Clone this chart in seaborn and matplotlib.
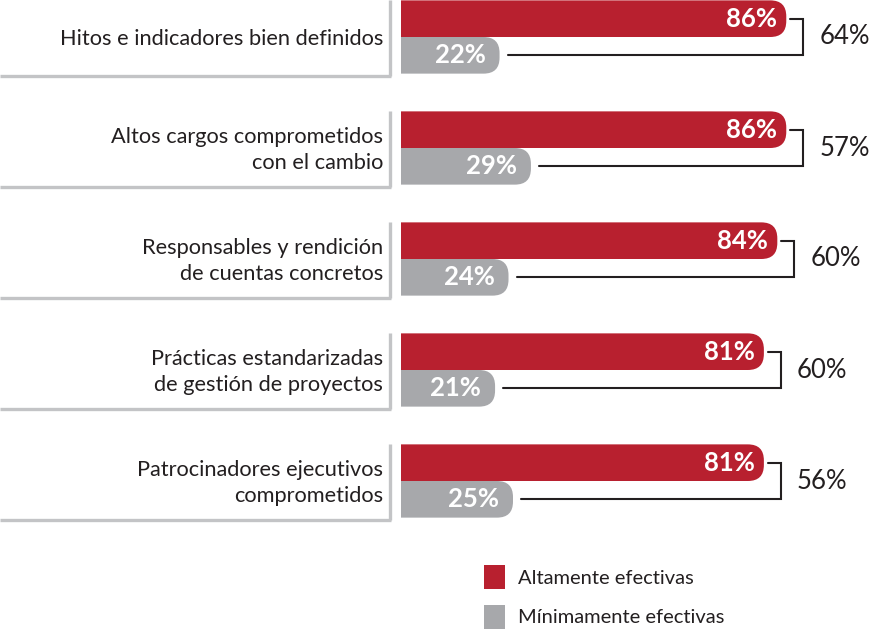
import matplotlib
matplotlib.use("Agg")
import matplotlib.pyplot as plt
from matplotlib.patches import FancyBboxPatch, Patch
from matplotlib.lines import Line2D
import seaborn as sns
import pandas as pd

# ---- data ----
categories = [
    "Hitos e indicadores bien definidos",
    "Altos cargos comprometidos\ncon el cambio",
    "Responsables y rendición\nde cuentas concretos",
    "Prácticas estandarizadas\nde gestión de proyectos",
    "Patrocinadores ejecutivos\ncomprometidos",
]
altamente = [86, 86, 84, 81, 81]
minimamente = [22, 29, 24, 21, 25]
diferencia = [64, 57, 60, 60, 56]
series_names = ["Altamente efectivas", "Mínimamente efectivas"]
colors = ["#B8202F", "#A7A8AB"]

sns.set_style("white")
FONT = ["Lato", "DejaVu Sans"]
plt.rcParams["font.family"] = FONT

df = pd.DataFrame({
    "cat": categories * 2,
    "val": altamente + minimamente,
    "serie": [series_names[0]] * len(categories) + [series_names[1]] * len(categories),
})

W, H = 870, 629
fig = plt.figure(figsize=(W / 100, H / 100), dpi=100)
X0 = 401            # pixel where bars start
S = 4.48            # pixels per percentage point
PY = 111            # pixels per category unit
ax = fig.add_axes([X0 / W, 0, (W - X0) / W, 1])

sns.barplot(data=df, x="val", y="cat", hue="serie", order=categories,
            hue_order=series_names, palette=colors, width=0.66,
            orient="h", legend=False, ax=ax, saturation=1)

ax.set_xlim(0, (W - X0) / S)
top_off = 37 / PY
ax.set_ylim((H - 37) / PY, -top_off)
ax.axis("off")

def px(p):
    return p / S

# rounded bars
r_px = 16
bars = list(ax.patches)
for b in bars:
    x, y = b.get_x(), b.get_y()
    w, h = b.get_width(), b.get_height()
    fc = b.get_facecolor()
    b.set_visible(False)
    ext = px(30)
    fb = FancyBboxPatch((x - ext, y), w + ext, h,
                        boxstyle=f"round,pad=0,rounding_size={px(r_px)}",
                        mutation_aspect=S / PY, facecolor=fc,
                        edgecolor="none", zorder=2)
    ax.add_patch(fb)

border = "#C3C4C6"
hb = 0.33
for i, cat in enumerate(categories):
    a, m, d = altamente[i], minimamente[i], diferencia[i]
    yr = i - hb / 2
    yg = i + hb / 2
    # label box borders
    xr = px(390 - X0)
    ytop = i - hb
    ybot = i + hb + 2 / PY
    ax.add_line(Line2D([xr, xr], [ytop, ybot], color=border, lw=2.4,
                       clip_on=False, solid_capstyle="butt"))
    ax.add_line(Line2D([px(-X0), xr + px(1.2)], [ybot, ybot], color=border,
                       lw=2.4, clip_on=False, solid_capstyle="butt"))
    # category label
    ax.text(px(383 - X0), i + 2 / PY, cat, ha="right", va="center",
            fontsize=15.7, color="#231F20", linespacing=1.42, clip_on=False)
    # value labels
    ax.text(a - px(9), yr, f"{a}%", ha="right", va="center", fontsize=18.5,
            fontweight="bold", color="white", zorder=3)
    ax.text(m - px(14), yg, f"{m}%", ha="right", va="center", fontsize=18.5,
            fontweight="bold", color="white", zorder=3)
    # bracket
    xb = a + px(17)
    ax.plot([a + px(4), xb, xb, m + px(8)], [yr, yr, yg, yg],
            color="#231F20", lw=1.5, solid_joinstyle="miter", zorder=3)
    ax.text(xb + px(16), i, f"{d}%", ha="left", va="center", fontsize=18.5,
            color="#231F20")

handles = [Patch(facecolor=c, edgecolor="none", label=n)
           for c, n in zip(colors, series_names)]
fig.legend(handles=handles, loc="upper left",
           bbox_to_anchor=(484 / W, 1 - 565 / H), frameon=False,
           fontsize=14.5, handlelength=1.05, handleheight=1.45,
           handletextpad=0.62, labelspacing=0.78, borderpad=0,
           borderaxespad=0, labelcolor="#231F20")

fig.savefig("out.png", dpi=100, facecolor="white")
